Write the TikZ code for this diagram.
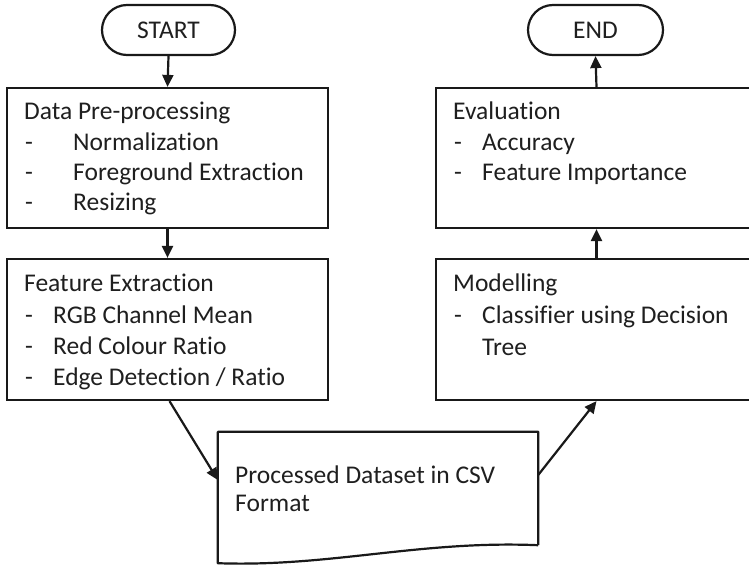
\documentclass[tikz,border=0pt]{standalone}
\usepackage{fontspec}
\setmainfont{Carlito}[Ligatures=NoCommon]
\usetikzlibrary{arrows.meta,calc}
\begin{document}
\begin{tikzpicture}[x=1pt,y=-1pt,
  every node/.style={font=\fontsize{25.5}{30}\selectfont, text=black!88},
  term/.style={draw=black!90, line width=2.2pt, rounded corners=25pt, minimum width=133pt, minimum height=50pt, inner sep=0pt},
  stepbox/.style={draw=black!90, line width=2.2pt, minimum width=321pt, inner sep=0pt},
  txt/.style={anchor=base west, inner sep=0pt},
  conn/.style={line width=2.2pt, draw=black!90, -{Triangle[length=12pt,width=11pt]}}
]
\useasboundingbox (0,0) rectangle (749,567);
\fill[white] (0,0) rectangle (749,567);
\clip (0,0) rectangle (749,567);

% terminals
\node[term] (start) at (168.5,30) {START};
\node[term, minimum width=135pt] (end) at (595.5,30) {END};

% boxes
\node[stepbox, minimum height=140pt] (pre) at (167.5,158) {};
\node[stepbox, minimum height=141pt] (feat) at (167.5,329.5) {};
\node[stepbox, minimum height=140pt] (eval) at (596.5,158) {};
\node[stepbox, minimum height=141pt] (model) at (596.5,329.5) {};

% document
\node[minimum width=320pt, minimum height=113pt, inner sep=0pt] (doc) at (378,488.5) {};
\draw[line width=2.2pt, draw=black!90, line join=round] (doc.south east) -- (doc.north east) -- (doc.north west) -- ([yshift=-18pt]doc.south west)
  .. controls ([xshift=112pt,yshift=-22pt]doc.south west) and ([xshift=-118pt,yshift=5pt]doc.south east) .. (doc.south east);

% texts: pre-processing
\node[txt] (t1) at (24,120) {Data Pre-processing};
\node[txt] (t1a) at (25,150) {-};
\node[txt] (t1b) at (73,150) {Normalization};
\node[txt] (t1c) at (25,180) {-};
\node[txt] (t1d) at (73,180) {Foreground Extraction};
\node[txt] (t1e) at (25,210) {-};
\node[txt] (t1f) at (73,210) {Resizing};

% texts: feature extraction
\node[txt] (t2) at (24,291) {Feature Extraction};
\node[txt] (t2a) at (25,323) {-};
\node[txt] (t2b) at (53,323) {RGB Channel Mean};
\node[txt] (t2c) at (25,354) {-};
\node[txt] (t2d) at (53,354) {Red Colour Ratio};
\node[txt] (t2e) at (25,385) {-};
\node[txt] (t2f) at (53,385) {Edge Detection / Ratio};

% texts: evaluation
\node[txt] (t3) at (453,120) {Evaluation};
\node[txt] (t3a) at (454,150) {-};
\node[txt] (t3b) at (482,150) {Accuracy};
\node[txt] (t3c) at (454,180) {-};
\node[txt] (t3d) at (482,180) {Feature Importance};

% texts: modelling
\node[txt] (t4) at (453,291) {Modelling};
\node[txt] (t4a) at (454,323) {-};
\node[txt] (t4b) at (482,323) {Classifier using Decision};
\node[txt] (t4c) at (482,355) {Tree};

% texts: document
\node[txt] (t5) at (235,483) {Processed Dataset in CSV};
\node[txt] (t5a) at (235,511) {Format};

% connectors
\draw[conn] (start.south) -- (pre.north);
\draw[conn] (pre.south) -- (feat.north);
\draw[conn] ([xshift=2pt]feat.south) -- ([yshift=8.5pt]doc.west);
\draw[conn] ([yshift=13.5pt]doc.east) -- (model.south);
\draw[conn] (model.north) -- (eval.south);
\draw[conn] (eval.north) -- (end.south);
\end{tikzpicture}
\end{document}
